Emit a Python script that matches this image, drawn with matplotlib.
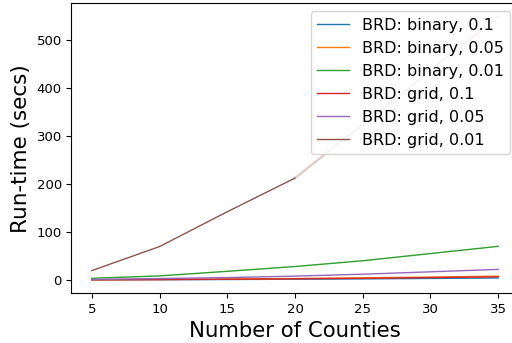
#!/usr/bin/env python3

"""run-time of BRD vs number of counties"""

import matplotlib
matplotlib.use("Agg")
import matplotlib.pyplot as plt

counties = [5, 10, 15, 20, 25, 30, 35]

binary_01 = [0.3, 0.6, 1.0, 1.6, 2.3, 3.2, 4.2]
binary_005 = [0.5, 1.0, 2.0, 3.0, 4.5, 6.0, 8.0]
binary_001 = [3.5, 8.5, 18, 28, 40, 55, 70]
grid_01 = [0.4, 0.8, 1.5, 2.5, 3.5, 5.0, 6.5]
grid_005 = [1.2, 3, 5, 8, 12, 17, 22]
grid_001 = [19.5, 69.5, 142, 212, 324, 436, 548]
# grid, 0.01 was only run up to this many counties; the rest is faded
grid_001_last_run = 20

labels = [
    "BRD: binary, 0.1",
    "BRD: binary, 0.05",
    "BRD: binary, 0.01",
    "BRD: grid, 0.1",
    "BRD: grid, 0.05",
    "BRD: grid, 0.01",
]


def runtime_plot():
    fig = plt.figure(figsize=(5.12, 3.43), dpi=100)
    # axes run slightly past the right edge of the figure
    ax = fig.add_axes([0.1396, 0.1458, 0.873, 0.844])

    series = [binary_01, binary_005, binary_001, grid_01, grid_005]
    for values, label in zip(series, labels):
        ax.plot(counties, values, linewidth=1.0, label=label)

    cut = counties.index(grid_001_last_run) + 1
    (line,) = ax.plot(counties[:cut], grid_001[:cut], linewidth=1.0,
                      label=labels[5])
    ax.plot(counties[cut - 1:], grid_001[cut - 1:], linewidth=1.8,
            color=line.get_color(), alpha=0.28)

    ax.legend(loc="upper right", fontsize=11.5)
    ax.set_xlabel("Number of Counties", fontsize=15.3)
    ax.set_ylabel("Run-time (secs)", fontsize=15.5)
    ax.tick_params(labelsize=9.5)
    ax.set_xticks(range(5, 40, 5))

    fig.savefig("out.png", dpi=100)


runtime_plot()
